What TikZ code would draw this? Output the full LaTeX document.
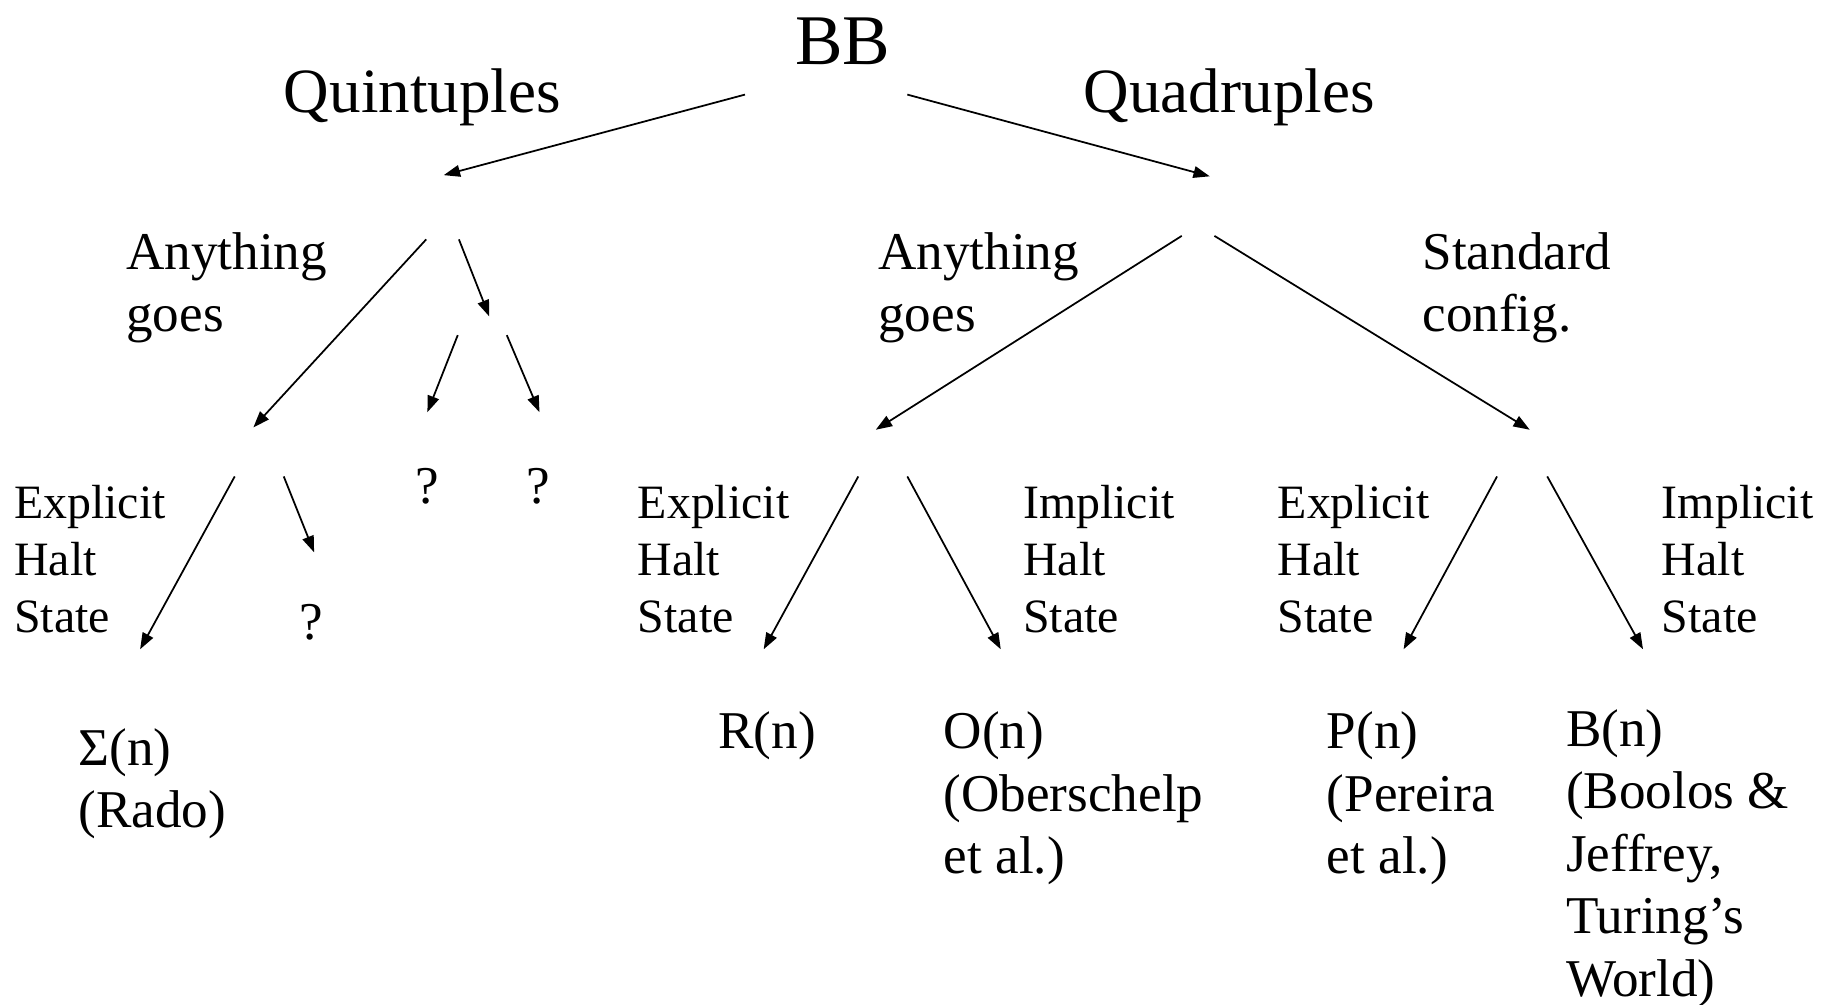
\documentclass[tikz,border=0pt]{standalone}
\usepackage{fontspec}
\setmainfont{Liberation Serif}
\usetikzlibrary{arrows.meta}
\tikzset{
	arr/.style={-{Triangle[length=14pt,width=10pt]}, line width=1.5pt},
	lbl/.style={anchor=base west, align=left, inner sep=0pt},
	top/.style={lbl, font=\fontsize{61}{70}\selectfont},
	kind/.style={lbl, font=\fontsize{54}{64}\selectfont},
	mid/.style={lbl, font=\fontsize{45.5}{53.5}\selectfont},
	halt/.style={lbl, font=\fontsize{41}{49}\selectfont},
}
\begin{document}
\begin{tikzpicture}[x=1pt, y=-1pt]
				\useasboundingbox (0,0) rectangle (1568,860);
				
				\node[top] (bb) at (681,55) {BB};
				\node[kind] (quint) at (243,96) {Quintuples};
				\node[kind] (quad) at (928,96) {Quadruples};
				
				\node[mid] (quintAny) at (108,284) {Anything\\goes};
				\node[mid] (quadAny) at (752,284) {Anything\\goes};
				\node[mid] (quadStd) at (1218,284) {Standard\\config.};
				
				\node[halt] (haltA) at (12,542) {Explicit\\Halt\\State};
				\node[halt] (haltB) at (546,542) {Explicit\\Halt\\State};
				\node[halt] (haltC) at (876,542) {Implicit\\Halt\\State};
				\node[halt] (haltD) at (1094,542) {Explicit\\Halt\\State};
				\node[halt] (haltE) at (1423,542) {Implicit\\Halt\\State};
				
				\node[mid] (qA) at (356,431) {?};
				\node[mid] (qB) at (451,431) {?};
				\node[mid] (qC) at (256,548) {?};
				
				\node[mid] (sigma) at (67,709) {Σ(n)\\(Rado)};
				\node[mid] (rn) at (615,641) {R(n)};
				\node[mid] (on) at (808,748) {O(n)\\(Oberschelp\\et al.)};
				\node[mid] (pn) at (1136,748) {P(n)\\(Pereira\\et al.)};
				\node[mid] (bn) at (1341,853) {B(n)\\(Boolos \&\\Jeffrey,\\Turing’s\\World)};
				
				\coordinate (bbL) at (638,81);
				\coordinate (bbR) at (777,81);
				\coordinate (quintIn) at (380,150);
				\coordinate (quadIn) at (1036,151);
				
				\coordinate (quintL) at (365,205);
				\coordinate (quintR) at (393,205);
				\coordinate (anyIn) at (217,366);
				\coordinate (otherIn) at (419,271);
				\coordinate (otherL) at (392,287);
				\coordinate (otherR) at (434,287);
				\coordinate (qAin) at (366,353);
				\coordinate (qBin) at (462,353);
				
				\coordinate (anyL) at (201,408);
				\coordinate (anyR) at (243,408);
				\coordinate (sigmaIn) at (120,556);
				\coordinate (qCin) at (269,473);
				
				\coordinate (quadL) at (1012,202);
				\coordinate (quadR) at (1040,202);
				\coordinate (qAnyIn) at (750,368);
				\coordinate (qStdIn) at (1310,368);
				
				\coordinate (qAnyL) at (735,408);
				\coordinate (qAnyR) at (777,408);
				\coordinate (rnIn) at (654,556);
				\coordinate (onIn) at (857,556);
				
				\coordinate (qStdL) at (1282,408);
				\coordinate (qStdR) at (1325,408);
				\coordinate (pnIn) at (1202,556);
				\coordinate (bnIn) at (1407,556);
				
				\draw[arr] (bbL) -- (quintIn);
				\draw[arr] (bbR) -- (quadIn);
				\draw[arr] (quintL) -- (anyIn);
				\draw[arr] (quintR) -- (otherIn);
				\draw[arr] (otherL) -- (qAin);
				\draw[arr] (otherR) -- (qBin);
				\draw[arr] (anyL) -- (sigmaIn);
				\draw[arr] (anyR) -- (qCin);
				\draw[arr] (quadL) -- (qAnyIn);
				\draw[arr] (quadR) -- (qStdIn);
				\draw[arr] (qAnyL) -- (rnIn);
				\draw[arr] (qAnyR) -- (onIn);
				\draw[arr] (qStdL) -- (pnIn);
				\draw[arr] (qStdR) -- (bnIn);
			\end{tikzpicture}
\end{document}
